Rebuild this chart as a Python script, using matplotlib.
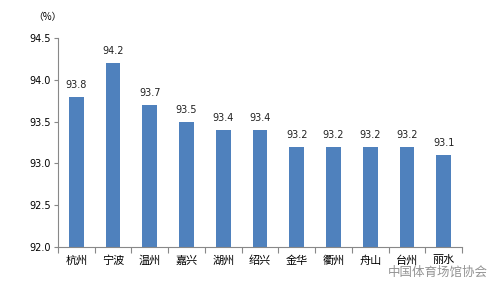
import matplotlib
matplotlib.use("Agg")
from matplotlib import pyplot as plt

plt.rcParams['font.family'] = ['Noto Sans CJK SC', 'DejaVu Sans']

cities = ["杭州", "宁波", "温州", "嘉兴", "湖州", "绍兴", "金华", "衢州", "舟山", "台州", "丽水"]
values = [93.8, 94.2, 93.7, 93.5, 93.4, 93.4, 93.2, 93.2, 93.2, 93.2, 93.1]
yticks = [92.0, 92.5, 93.0, 93.5, 94.0, 94.5]

fig = plt.figure(figsize=(5, 2.9), dpi=100)
ax = fig.add_axes([0.116, 0.148, 0.808, 0.721])

x = list(range(len(cities)))
ax.bar(x, values, width=0.4, color='#4f81bd')
for xi, v in zip(x, values):
    ax.text(xi, v + 0.08, "%.1f" % v, ha='center', va='bottom', fontsize=7, color='#222222',
            family='DejaVu Sans')

ax.set_ylim(92.0, 94.5)
ax.set_xlim(-0.5, len(cities) - 0.5)
ax.set_yticks(yticks)
ax.set_yticklabels(["%.1f" % t for t in yticks], fontsize=7, family='DejaVu Sans')
ax.set_xticks([i - 0.5 for i in range(len(cities) + 1)])
ax.set_xticklabels([])
ax.set_xticks(x, minor=True)
ax.set_xticklabels(cities, minor=True, fontsize=8)
ax.tick_params(axis='x', which='minor', length=0, pad=6)
ax.tick_params(axis='x', which='major', length=4, color='#888888')
ax.tick_params(axis='y', length=3, color='#888888', pad=2)

for s in ['top', 'right']:
    ax.spines[s].set_visible(False)
for s in ['left', 'bottom']:
    ax.spines[s].set_color('#888888')
    ax.spines[s].set_linewidth(0.8)

fig.text(0.066, 0.94, "（%）", fontsize=7, ha='left', va='center')
# watermark
fig.text(0.975, 0.062, "中国体育场馆协会", fontsize=9, ha='right', va='center', color='#666666', alpha=0.7)

fig.savefig("out.png", dpi=100)
